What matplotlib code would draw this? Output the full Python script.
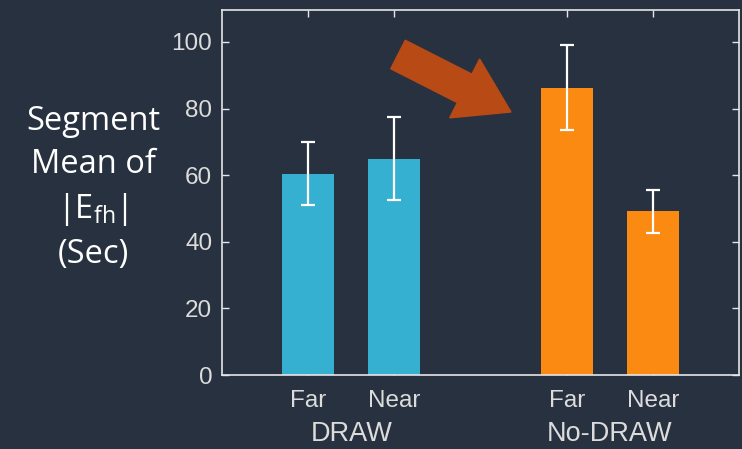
import matplotlib
matplotlib.use('Agg')
import matplotlib.pyplot as plt
import matplotlib.patches as mpatches
from matplotlib.transforms import IdentityTransform

# bar data
groups = ['DRAW', 'No-DRAW']
conditions = ['Far', 'Near', 'Far', 'Near']
positions = [1, 2, 4, 5]
means = [60.4, 64.9, 86.1, 49.2]
err_low = [51.0, 52.5, 73.6, 42.6]
err_high = [70.0, 77.5, 99.0, 55.6]
colors = ['#35b0d0', '#35b0d0', '#fb8a12', '#fb8a12']

bg = '#28313f'
fg = '#e6e6e6'

plt.rcParams['font.family'] = ['Liberation Sans', 'DejaVu Sans']
plt.rcParams['mathtext.fontset'] = 'custom'
plt.rcParams['mathtext.rm'] = 'Open Sans'

fig = plt.figure(figsize=(7.42, 4.49), dpi=100, facecolor=bg)
ax = fig.add_axes([222 / 742, 74 / 449, 517 / 742, 365 / 449])
ax.set_facecolor(bg)

ax.bar(positions, means, width=0.6, color=colors, zorder=2)
yerr = [[m - lo for m, lo in zip(means, err_low)],
        [hi - m for m, hi in zip(means, err_high)]]
ax.errorbar(positions, means, yerr=yerr, fmt='none', ecolor='white',
            elinewidth=1.6, capsize=5, capthick=1.6, zorder=3)

ax.set_xlim(0, 6)
ax.set_ylim(0, 109.6)
ax.set_yticks([0, 20, 40, 60, 80, 100])
ax.set_xticks(positions)
ax.set_xticklabels(conditions)

for s in ax.spines.values():
    s.set_color(fg)
    s.set_linewidth(1.2)
ax.tick_params(axis='both', direction='in', colors=fg, labelcolor='#dcdcdc',
               top=True, right=True, length=5, width=1)
ax.tick_params(axis='y', labelsize=17.5, pad=7)
ax.tick_params(axis='x', labelsize=17.5, pad=11)

# group labels under the condition labels
for gx, g in zip([1.5, 4.5], groups):
    ax.text(gx, -0.198, g, transform=ax.get_xaxis_transform(),
            ha='center', va='bottom', fontsize=19.5, color='#dcdcdc')

# y label, slide style
fig.text(93 / 742, 1 - 188 / 449,
         'Segment\nMean of\n|$\\mathregular{E_{fh}}$|\n(Sec)',
         ha='center', va='center', fontsize=23.5, color='white',
         family='Open Sans', linespacing=1.4)

# highlight arrow (pixel coords)
arrow = mpatches.FancyArrow(398, 449 - 54.5, 113, -57.5, width=32,
                            head_width=66, head_length=52,
                            length_includes_head=True, color='#b84a16',
                            transform=IdentityTransform(), zorder=5)
fig.patches.append(arrow)

fig.savefig('out.png', dpi=100, facecolor=bg)
